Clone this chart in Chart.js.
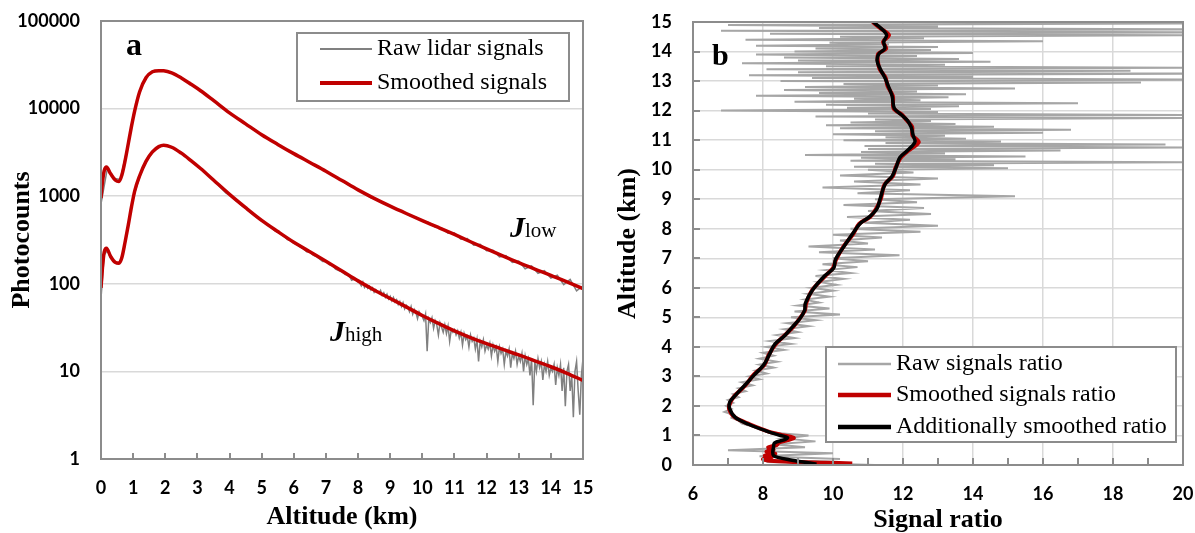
<!DOCTYPE html>
<html>
<head>
<meta charset="utf-8">
<script src="https://cdn.jsdelivr.net/npm/chart.js@4.4.1/dist/chart.umd.min.js"></script>
<style>
  body { margin: 0; background: #fff; width: 1195px; height: 533px; overflow: hidden; position: relative; }
  canvas { position: absolute; top: 0; }
  #chartA { left: 0; }
  #chartB { left: 597px; }
</style>
</head>
<body>
<canvas id="chartA" width="597" height="533"></canvas>
<canvas id="chartB" width="598" height="533"></canvas>
<script>
// ---- panel a: photocounts vs altitude ----
const seriesA = ['Raw lidar signals', 'Smoothed signals'];
const countTicks = [1, 10, 100, 1000, 10000, 100000];

// smoothed curves (altitude km -> counts)
const smoothAlt = [0, 0.05, 0.1, 0.17, 0.3, 0.45, 0.56, 0.65, 0.75, 0.85, 0.95, 1.05, 1.2, 1.4, 1.6, 1.8, 1.95, 2.2, 2.5, 2.8,
  3.1, 3.5, 4, 4.5, 5, 5.5, 6, 6.5, 7, 7.5, 8, 8.5, 9, 9.5, 10, 10.5, 11, 11.5, 12, 12.5, 13, 13.5, 14, 14.5, 15];
const lowSmooth = [950, 1500, 1950, 2150, 1800, 1520, 1470, 1750, 2550, 4000, 6300, 9500, 15500, 22500, 26300, 27100, 27000, 25600, 22400, 19000,
  16000, 12400, 8950, 6700, 5030, 3900, 3060, 2430, 1930, 1510, 1180, 945, 770, 635, 527, 440, 366, 302, 250, 208, 174, 147, 125, 105, 88];
const highSmooth = [90, 160, 230, 255, 205, 175, 172, 200, 300, 470, 760, 1150, 1700, 2500, 3200, 3680, 3820, 3620, 3100, 2550,
  2070, 1530, 1050, 740, 530, 395, 298, 232, 181, 140, 108, 85, 68, 54.5, 43.5, 35.3, 29, 24.3, 20.7, 17.8, 15.4, 13.2, 11.3, 9.5, 7.9];

// raw signals: J_low every 0.2 km; J_high every 0.1 km to 8 km, then every 0.05 km
const rawLowStep = 0.2;
const rawLow = [820, 2100, 1600, 1550, 3300, 8200, 15800, 22500, 26300, 27100, 27000,
  25600, 23500, 21200, 19100, 17000, 15000, 13300, 11600, 10200, 8950,
  7900, 7100, 6300, 5600, 5030, 4500, 4100, 3700, 3380, 3060,
  2800, 2530, 2300, 2120, 1930, 1750, 1590, 1420, 1290, 1180,
  1060, 960, 910, 830, 775, 700, 670, 600, 575, 520,
  500, 445, 432, 378, 380, 322, 328, 275, 282, 238,
  242, 203, 210, 175, 182, 148, 160, 132, 141, 116,
  125, 98, 112, 83, 95];
const rawHighStep = 0.1;
const rawHigh = [68, 215, 240, 195, 182, 170, 180, 240, 370, 600,
  920, 1260, 1640, 2050, 2440, 2800, 3150, 3430, 3640, 3780,
  3790, 3700, 3590, 3430, 3270, 3090, 2900, 2720, 2540, 2370,
  2210, 2040, 1900, 1770, 1640, 1510, 1400, 1280, 1170, 1080,
  1040, 960, 890, 830, 770, 730, 675, 630, 590, 560,
  520, 495, 465, 440, 405, 390, 370, 350, 320, 312,
  290, 285, 262, 252, 232, 232, 212, 205, 192, 180,
  180, 166, 162, 147, 142, 137, 128, 128, 110, 114,
  105];
const rawHighFineStart = 8.05;
const rawHighFineStep = 0.05;
const rawHighFine = [102, 95, 105, 91, 97, 89, 94, 85, 90, 80, 86, 82, 78, 84, 74, 79, 70, 76, 67, 72,
  64, 70, 62, 66, 58, 63, 55, 61, 52, 57, 54, 48, 55, 45, 51, 47, 40, 48, 44, 42,
  38, 45, 17, 40, 36, 41, 31, 38, 34, 26, 36, 32, 28, 34, 27, 33, 22, 30, 28, 30,
  26, 29, 24, 28, 20, 27, 23, 25, 19, 26, 22, 24, 18, 23, 13, 22, 19, 23, 17, 20,
  18, 21, 15, 20, 17, 19, 13, 19, 16, 18, 12, 17, 15, 18, 11, 16, 14, 17, 12, 15,
  13, 16, 10, 15, 12, 14, 9, 14, 4.1, 13, 10, 14, 11, 13, 8, 12, 10, 13, 9, 11,
  10, 12, 7, 11, 9, 12, 6, 11, 4, 10, 12, 6, 9, 3, 10, 13, 6, 3.2, 9, 14];

// ---- panel b: signal ratio vs altitude ----
const seriesB = ['Raw signals ratio', 'Smoothed signals ratio', 'Additionally smoothed ratio'];
const ratioTicks = [6, 8, 10, 12, 14, 16, 18, 20];
const altTicks = [0, 1, 2, 3, 4, 5, 6, 7, 8, 9, 10, 11, 12, 13, 14, 15];

const blackAlt = [0.03, 0.1, 0.18, 0.25, 0.32, 0.45, 0.6, 0.75, 0.85, 0.93, 1.0, 1.15,
  1.38, 1.61, 1.9, 2.13, 2.36, 2.7, 3.05, 3.39, 3.74, 4.09, 4.37, 4.66, 4.95, 5.24, 5.47, 5.93, 6.39, 6.67, 6.96, 7.36, 7.83,
  8.17, 8.4, 8.69, 9.03, 9.49, 9.78, 10.07, 10.41, 10.64, 10.93, 11.16, 11.45, 11.68, 11.85, 12.08, 12.49, 12.83, 13.12,
  13.41, 13.69, 13.92, 14.1, 14.33, 14.56, 14.79, 15.0];
const blackRatio = [9.53, 9.15, 8.75, 8.45, 8.3, 8.28, 8.3, 8.33, 8.6, 8.7, 8.5, 8.1,
  7.59, 7.21, 7.05, 7.05, 7.21, 7.48, 7.75, 8.02, 8.18, 8.34, 8.61, 8.83, 9.05, 9.19, 9.21, 9.42, 9.75, 10.02, 10.07, 10.29, 10.56,
  10.77, 11.04, 11.26, 11.35, 11.48, 11.69, 11.8, 11.91, 12.12, 12.34, 12.29, 12.23, 12.12, 11.96, 11.75, 11.69, 11.58, 11.48,
  11.35, 11.26, 11.31, 11.48, 11.45, 11.53, 11.37, 11.15];

const redAltLow = [0.05, 0.08, 0.1, 0.14, 0.2, 0.26, 0.32, 0.38, 0.45, 0.52, 0.6, 0.68, 0.76, 0.84, 0.92, 1.0, 1.15];
const redRatio = [10.55, 9.8, 9.0, 8.2, 8.0, 8.25, 8.05, 8.35, 8.1, 8.3, 8.15, 8.4, 8.45, 8.7, 8.88, 8.6, 8.12,
  7.62, 7.2, 7.03, 7.07, 7.2, 7.5, 7.73, 8.04, 8.17, 8.36, 8.6, 8.85, 9.04, 9.2, 9.23, 9.41, 9.77, 10.0, 10.09, 10.28,
  10.58, 10.75, 11.06, 11.24, 11.37, 11.47, 11.71, 11.79, 11.94, 12.15, 12.45, 12.27, 12.26, 12.1, 11.98, 11.73, 11.71, 11.56,
  11.5, 11.33, 11.28, 11.29, 11.52, 11.43, 11.6, 11.35, 11.13];
const redAlt = redAltLow.concat(blackAlt.slice(12));

// raw ratio: every 0.1 km up to 10 km, then every 0.05 km to 15 km
const rawRatioLow = [11.2, 8.1, 10.2, 7.9, 10.0, 7.0, 9.2, 8.3, 9.5, 8.6,
  9.3, 8.2, 7.9, 7.7, 7.4, 7.3, 7.1, 7.15, 6.9, 7.1,
  6.95, 7.15, 7.0, 7.3, 7.15, 7.5, 7.3, 7.7, 7.4, 7.9,
  7.6, 8.1, 7.8, 8.3, 7.9, 8.4, 7.9, 8.3, 8.0, 8.6,
  8.1, 8.8, 8.2, 8.9, 8.4, 9.0, 8.6, 9.3, 8.7, 9.5,
  8.8, 10.2, 8.9, 9.9, 9.0, 9.6, 9.2, 9.9, 9.3, 10.0,
  9.4, 10.1, 9.6, 10.3, 9.5, 10.5, 9.8, 10.7, 9.7, 11.0,
  10.0, 11.9, 9.6, 11.2, 9.3, 11.0, 10.2, 11.4, 10.0, 12.5,
  10.5, 13.0, 10.9, 12.2, 10.4, 12.8, 11.0, 12.6, 10.3, 12.4,
  11.2, 15.2, 10.7, 12.2, 9.7, 12.5, 10.6, 13.0, 10.2, 12.3,
  11.0];
const rawRatioHighStart = 10.05;
const rawRatioHigh = [15.0, 10.6, 14.6, 11.2, 20.5, 10.5, 13.5, 10.8, 15.5, 9.2,
  13.2, 10.8, 16.5, 11.0, 20.5, 10.9, 19.5, 11.5, 14.8, 10.3,
  13.8, 11.5, 13.2, 10.0, 16.0, 11.2, 16.8, 10.2, 14.6, 9.8,
  13.5, 10.5, 12.8, 11.2, 20.5, 9.5, 20.5, 11.0, 13.0, 6.8,
  12.8, 10.4, 13.6, 9.8, 17.0, 8.9, 12.5, 10.6, 13.3, 7.8,
  13.8, 9.6, 12.4, 8.6, 15.2, 9.2, 13.0, 10.3, 18.8, 8.5,
  20.5, 9.4, 14.0, 7.6, 20.5, 9.0, 18.5, 8.1, 20.5, 9.8,
  13.2, 7.4, 14.5, 9.0, 13.6, 8.6, 12.4, 7.8, 14.0, 8.9,
  12.8, 9.5, 13.0, 7.8, 11.6, 9.9, 16.0, 7.5, 12.6, 10.2,
  20.5, 8.2, 20.5, 6.8, 20.5, 9.6, 13.0, 7.0, 20.5, 11.0];

// ---- helpers ----
const pts = (xs, ys) => xs.map((x, i) => ({ x: x, y: ys[i] }));
const stepPts = (vals, start, step) => vals.map((v, i) => ({ x: +(start + i * step).toFixed(3), y: v }));
const stepPtsY = (vals, start, step) => vals.map((v, i) => ({ x: v, y: +(start + i * step).toFixed(3) }));

Chart.defaults.font.family = 'Lato';
Chart.defaults.font.size = 18;
Chart.defaults.font.weight = 'bold';
Chart.defaults.color = '#000';

const tickFont = { family: 'Lato', size: 18, weight: 'bold' };
const titleFont = { family: '"Liberation Serif"', size: 26, weight: 'bold', lineHeight: 1 };
const serif = '"Liberation Serif"';

// frame box + inside tick marks
const frame = {
  id: 'frame',
  afterDatasetsDraw(chart, args, opts) {
    const { ctx, chartArea: a } = chart;
    const xs = chart.scales.x, ys = chart.scales.y;
    ctx.save();
    ctx.strokeStyle = '#8c8c8c';
    ctx.lineWidth = 2;
    ctx.beginPath();
    for (let v = xs.min; v <= xs.max + 1e-9; v += opts.xStep) {
      const px = Math.round(xs.getPixelForValue(v));
      ctx.moveTo(px, a.bottom);
      ctx.lineTo(px, a.bottom - opts.tick);
    }
    if (opts.yStep) {
      for (let v = ys.min; v <= ys.max + 1e-9; v += opts.yStep) {
        const py = Math.round(ys.getPixelForValue(v));
        ctx.moveTo(a.left, py);
        ctx.lineTo(a.left + opts.tick, py);
      }
    }
    ctx.stroke();
    ctx.strokeRect(a.left, a.top, a.width, a.height);
    ctx.restore();
  }
};

// panel letters, curve labels and the boxed legend
const notes = {
  id: 'notes',
  afterDraw(chart, args, opts) {
    const ctx = chart.ctx;
    ctx.save();
    ctx.fillStyle = '#000';
    ctx.textBaseline = 'alphabetic';
    opts.labels.forEach(lb => {
      let x = lb.x;
      lb.parts.forEach(p => {
        ctx.font = p.font;
        ctx.fillText(p.text, x, lb.y);
        x += ctx.measureText(p.text).width;
      });
    });
    const L = opts.legend;
    ctx.fillStyle = '#fff';
    ctx.fillRect(L.x, L.y, L.w, L.h);
    ctx.strokeStyle = '#8c8c8c';
    ctx.lineWidth = 2;
    ctx.strokeRect(L.x, L.y, L.w, L.h);
    ctx.font = L.font;
    ctx.textBaseline = 'middle';
    L.items.forEach((it, i) => {
      const y = L.y + L.rows[i];
      ctx.strokeStyle = it.color;
      ctx.lineWidth = it.width;
      ctx.beginPath();
      ctx.moveTo(L.x + L.line[0], y);
      ctx.lineTo(L.x + L.line[1], y);
      ctx.stroke();
      ctx.fillStyle = '#000';
      ctx.fillText(it.text, L.x + L.textX, y);
    });
    ctx.restore();
  }
};

// keep the plot area exactly where layout.padding puts it
const noXPad = s => { s.paddingLeft = 0; s.paddingRight = 0; };
const noYPad = s => { s.paddingTop = 0; s.paddingBottom = 0; };

const base = {
  responsive: false,
  animation: false,
  events: [],
  elements: { point: { radius: 0 }, line: { tension: 0 } },
};

// ---- chart a ----
new Chart(document.getElementById('chartA'), {
  type: 'line',
  data: {
    datasets: [
      { label: seriesA[1], data: pts(smoothAlt, lowSmooth), borderColor: '#c00000', borderWidth: 3.5, cubicInterpolationMode: 'monotone' },
      { label: seriesA[1], data: pts(smoothAlt, highSmooth), borderColor: '#c00000', borderWidth: 3.5, cubicInterpolationMode: 'monotone' },
      { label: seriesA[0], data: stepPts(rawLow, 0, rawLowStep), borderColor: '#808080', borderWidth: 1.5 },
      { label: seriesA[0], data: stepPts(rawHigh, 0, rawHighStep).concat(stepPts(rawHighFine, rawHighFineStart, rawHighFineStep)), borderColor: '#808080', borderWidth: 1.5 }
    ]
  },
  options: Object.assign({}, base, {
    layout: { padding: { top: 21, right: 14, left: 0, bottom: 0 } },
    scales: {
      x: {
        type: 'linear', min: 0, max: 15,
        ticks: { stepSize: 1, autoSkip: false, maxRotation: 0, padding: 18, font: tickFont, color: '#000' },
        grid: { display: false, drawTicks: false },
        border: { display: false },
        title: { display: true, text: 'Altitude (km)', font: titleFont, color: '#000', padding: { top: 0, bottom: 3 } },
        afterFit: s => { s.height = 74; noXPad(s); }
      },
      y: {
        type: 'logarithmic', min: 1, max: 100000,
        afterBuildTicks: s => { s.ticks = countTicks.map(v => ({ value: v })); },
        ticks: { padding: 21, font: tickFont, color: '#000', callback: v => String(v) },
        grid: { color: '#d9d9d9', lineWidth: 1.5, drawTicks: false },
        border: { display: false },
        title: { display: true, text: 'Photocounts', font: titleFont, color: '#000', padding: { top: 9, bottom: 0 } },
        afterFit: s => { s.width = 101; noYPad(s); }
      }
    },
    plugins: {
      legend: { display: false },
      tooltip: { enabled: false },
      frame: { xStep: 1, tick: 6 },
      notes: {
        labels: [
          { x: 126, y: 55, parts: [{ text: 'a', font: 'bold 32px ' + serif }] },
          { x: 510, y: 237, parts: [{ text: 'J', font: 'italic bold 30px ' + serif }, { text: 'low', font: '21px ' + serif }] },
          { x: 330, y: 341, parts: [{ text: 'J', font: 'italic bold 30px ' + serif }, { text: 'high', font: '21px ' + serif }] }
        ],
        legend: {
          x: 297, y: 33, w: 272, h: 68, rows: [16, 50], line: [23, 75], textX: 80, font: '24px ' + serif,
          items: [
            { text: seriesA[0], color: '#808080', width: 2 },
            { text: seriesA[1], color: '#c00000', width: 4 }
          ]
        }
      }
    }
  }),
  plugins: [frame, notes]
});

// ---- chart b ----
new Chart(document.getElementById('chartB'), {
  type: 'scatter',
  data: {
    datasets: [
      { label: seriesB[2], data: pts(blackRatio, blackAlt), showLine: true, borderColor: '#000', borderWidth: 3.5, tension: 0.35 },
      { label: seriesB[1], data: pts(redRatio, redAlt), showLine: true, borderColor: '#c00000', borderWidth: 4, tension: 0.3 },
      { label: seriesB[0], data: stepPtsY(rawRatioLow, 0, 0.1).concat(stepPtsY(rawRatioHigh, rawRatioHighStart, 0.05)), showLine: true, borderColor: '#a6a6a6', borderWidth: 2 }
    ]
  },
  options: Object.assign({}, base, {
    layout: { padding: { top: 22, right: 12, left: 0, bottom: 0 } },
    scales: {
      x: {
        type: 'linear', min: 6, max: 20,
        afterBuildTicks: s => { s.ticks = ratioTicks.map(v => ({ value: v })); },
        ticks: { autoSkip: false, maxRotation: 0, padding: 18, font: tickFont, color: '#000' },
        grid: { color: '#d9d9d9', lineWidth: 1.5, drawTicks: false },
        border: { display: false },
        title: { display: true, text: 'Signal ratio', font: titleFont, color: '#000', padding: { top: 0, bottom: 0 } },
        afterFit: s => { s.height = 68; noXPad(s); }
      },
      y: {
        type: 'linear', min: 0, max: 15,
        afterBuildTicks: s => { s.ticks = altTicks.map(v => ({ value: v })); },
        ticks: { padding: 21, font: tickFont, color: '#000' },
        grid: { color: '#d9d9d9', lineWidth: 1.5, drawTicks: false },
        border: { display: false },
        title: { display: true, text: 'Altitude (km)', font: titleFont, color: '#000', padding: { top: 18, bottom: 0 } },
        afterFit: s => { s.width = 96; noYPad(s); }
      }
    },
    plugins: {
      legend: { display: false },
      tooltip: { enabled: false },
      frame: { xStep: 1, yStep: 1, tick: 7 },
      notes: {
        labels: [
          { x: 115, y: 65, parts: [{ text: 'b', font: 'bold 30px ' + serif }] }
        ],
        legend: {
          x: 229, y: 347, w: 350, h: 95, rows: [17, 48, 80], line: [12, 65], textX: 70, font: '24px ' + serif,
          items: [
            { text: seriesB[0], color: '#a6a6a6', width: 2.5 },
            { text: seriesB[1], color: '#c00000', width: 4.5 },
            { text: seriesB[2], color: '#000', width: 4.5 }
          ]
        }
      }
    }
  }),
  plugins: [frame, notes]
});
</script>
</body>
</html>
